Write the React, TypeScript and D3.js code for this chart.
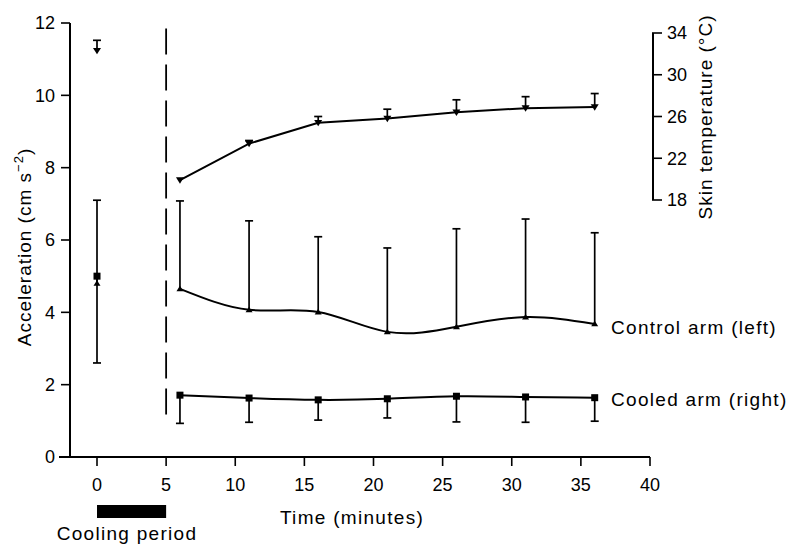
import * as d3 from 'd3';

// Time points after cooling (minutes)
const times = [6, 11, 16, 21, 26, 31, 36];

// Skin temperature (°C), mean and upper SE
const skinTemp = [19.9, 23.4, 25.4, 25.8, 26.4, 26.8, 26.9];
const skinTempUpper = [19.9, 23.7, 26.0, 26.7, 27.6, 27.9, 28.2];

// Control arm (left) acceleration, mean and upper SE
const controlAcc = [4.65, 4.07, 4.01, 3.46, 3.6, 3.87, 3.68];
const controlUpper = [7.08, 6.53, 6.09, 5.78, 6.31, 6.58, 6.2];

// Cooled arm (right) acceleration, mean and lower SE
const cooledAcc = [1.71, 1.63, 1.58, 1.61, 1.68, 1.66, 1.64];
const cooledLower = [0.93, 0.96, 1.02, 1.08, 0.97, 0.96, 0.99];

// Pre-cooling baseline at t = 0
const baseTime = 0;
const baseSkin = 32.3;
const baseSkinUpper = 33.3;
const baseControl = 4.8;
const baseControlUpper = 7.1;
const baseCooled = 5.0;
const baseCooledLower = 2.6;

const xTicks = [0, 5, 10, 15, 20, 25, 30, 35, 40];
const accTicks = [0, 2, 4, 6, 8, 10, 12];
const tempTicks = [18, 22, 26, 30, 34];

const FONT = "'Liberation Sans', Arial, Helvetica, sans-serif";
const LABEL_SIZE = 19;
const LABEL_SPACING = 1.3;
const TICK_SIZE = 18;

export default function App() {
  const width = 788;
  const height = 548;

  const x = d3.scaleLinear().domain([0, 40]).range([97, 650]);
  const yAcc = d3.scaleLinear().domain([0, 12]).range([457, 23]);
  const yTemp = d3.scaleLinear().domain([18, 34]).range([200, 33]);

  const axisX = 70;
  const rightAxisX = 653;
  const capW = 4;

  const curveLine = (vals: number[], y: d3.ScaleLinear<number, number>, curve: d3.CurveFactory) =>
    d3
      .line<number>()
      .x((_, i) => x(times[i]))
      .y((d) => y(d))
      .curve(curve)(vals) || '';

  const errBar = (t: number, from: number, to: number, key: string) => {
    if (Math.abs(to - from) < 1) return null;
    return (
      <g key={key}>
        <line x1={x(t)} x2={x(t)} y1={from} y2={to} stroke="#000" strokeWidth={1.7} />
        <line x1={x(t) - capW} x2={x(t) + capW} y1={to} y2={to} stroke="#000" strokeWidth={1.7} />
      </g>
    );
  };

  const triDown = (cx: number, cy: number, s = 4) =>
    `M${cx - s},${cy - s * 0.7}L${cx + s},${cy - s * 0.7}L${cx},${cy + s * 0.9}Z`;
  const triUp = (cx: number, cy: number, s = 3.5) =>
    `M${cx - s},${cy + s * 0.7}L${cx + s},${cy + s * 0.7}L${cx},${cy - s * 0.9}Z`;

  return (
    <div style={{ position: 'absolute', left: 0, top: 0 }}>
      <svg width={width} height={height} style={{ display: 'block', background: '#fff' }}>
        <g fontFamily={FONT} fill="#000">
          {/* left y axis */}
          <line x1={axisX} x2={axisX} y1={yAcc(12)} y2={yAcc(0)} stroke="#000" strokeWidth={2} />
          {accTicks.map((t) => (
            <g key={`ya${t}`}>
              <line x1={axisX - 9} x2={axisX} y1={yAcc(t)} y2={yAcc(t)} stroke="#000" strokeWidth={1.6} />
              <text x={55} y={yAcc(t)} dy="0.36em" textAnchor="end" fontSize={TICK_SIZE}>
                {t}
              </text>
            </g>
          ))}
          <text
            transform={`translate(31,${247}) rotate(-90)`}
            textAnchor="middle"
            fontSize={LABEL_SIZE}
            letterSpacing={1}
          >
            Acceleration (cm s
            <tspan dy={-8} fontSize={13}>
              −2
            </tspan>
            <tspan dy={8}>)</tspan>
          </text>

          {/* x axis */}
          <line x1={59} x2={x(40)} y1={yAcc(0)} y2={yAcc(0)} stroke="#000" strokeWidth={2} />
          {xTicks.map((t) => (
            <g key={`xt${t}`}>
              <line x1={x(t)} x2={x(t)} y1={yAcc(0)} y2={yAcc(0) + 9} stroke="#000" strokeWidth={1.6} />
              <text x={x(t)} y={491} textAnchor="middle" fontSize={TICK_SIZE}>
                {t}
              </text>
            </g>
          ))}
          <text x={352} y={524} textAnchor="middle" fontSize={LABEL_SIZE} letterSpacing={LABEL_SPACING}>
            Time (minutes)
          </text>

          {/* cooling period */}
          <rect x={x(0)} y={505} width={x(5) - x(0)} height={13} fill="#000" />
          <text x={127} y={540} textAnchor="middle" fontSize={LABEL_SIZE} letterSpacing={LABEL_SPACING}>
            Cooling period
          </text>

          {/* end of cooling */}
          <line
            x1={x(5)}
            x2={x(5)}
            y1={yAcc(11.85)}
            y2={yAcc(1.0)}
            stroke="#000"
            strokeWidth={1.8}
            strokeDasharray="26 10"
          />

          {/* right temperature axis */}
          <line x1={rightAxisX} x2={rightAxisX} y1={yTemp(34)} y2={yTemp(18)} stroke="#000" strokeWidth={2} />
          {tempTicks.map((t) => (
            <g key={`yt${t}`}>
              <line
                x1={rightAxisX - 1}
                x2={rightAxisX + 9}
                y1={yTemp(t)}
                y2={yTemp(t)}
                stroke="#000"
                strokeWidth={1.6}
              />
              <text x={667} y={yTemp(t)} dy="0.36em" fontSize={TICK_SIZE}>
                {t}
              </text>
            </g>
          ))}
          <text
            transform={`translate(712,${117}) rotate(-90)`}
            textAnchor="middle"
            fontSize={LABEL_SIZE}
            letterSpacing={1}
          >
            Skin temperature (°C)
          </text>

          {/* skin temperature */}
          <path d={curveLine(skinTemp, yTemp, d3.curveLinear)} fill="none" stroke="#000" strokeWidth={2} />
          {times.map((t, i) => errBar(t, yTemp(skinTemp[i]), yTemp(skinTempUpper[i]), `se${i}`))}
          {times.map((t, i) => (
            <path key={`sm${i}`} d={triDown(x(t), yTemp(skinTemp[i]))} fill="#000" />
          ))}
          {errBar(baseTime, yTemp(baseSkin), yTemp(baseSkinUpper), 'sb')}
          <path d={triDown(x(baseTime), yTemp(baseSkin))} fill="#000" />

          {/* control arm */}
          <path d={curveLine(controlAcc, yAcc, d3.curveNatural)} fill="none" stroke="#000" strokeWidth={2} />
          {times.map((t, i) => errBar(t, yAcc(controlAcc[i]), yAcc(controlUpper[i]), `ce${i}`))}
          {times.map((t, i) => (
            <path key={`cm${i}`} d={triUp(x(t), yAcc(controlAcc[i]))} fill="#000" />
          ))}

          {/* cooled arm */}
          <path d={curveLine(cooledAcc, yAcc, d3.curveNatural)} fill="none" stroke="#000" strokeWidth={2} />
          {times.map((t, i) => errBar(t, yAcc(cooledAcc[i]), yAcc(cooledLower[i]), `ke${i}`))}
          {times.map((t, i) => (
            <rect key={`km${i}`} x={x(t) - 3.5} y={yAcc(cooledAcc[i]) - 3.5} width={7} height={7} fill="#000" />
          ))}

          {/* baseline acceleration */}
          {errBar(baseTime, yAcc(baseControl), yAcc(baseControlUpper), 'cb')}
          {errBar(baseTime, yAcc(baseCooled), yAcc(baseCooledLower), 'kb')}
          <rect x={x(baseTime) - 3.5} y={yAcc(baseCooled) - 3.5} width={7} height={7} fill="#000" />
          <path d={triUp(x(baseTime), yAcc(baseControl))} fill="#000" />

          {/* series labels */}
          <text x={611} y={334} fontSize={LABEL_SIZE} letterSpacing={LABEL_SPACING}>
            Control arm (left)
          </text>
          <text x={611} y={406} fontSize={LABEL_SIZE} letterSpacing={LABEL_SPACING}>
            Cooled arm (right)
          </text>
        </g>
      </svg>
    </div>
  );
}
